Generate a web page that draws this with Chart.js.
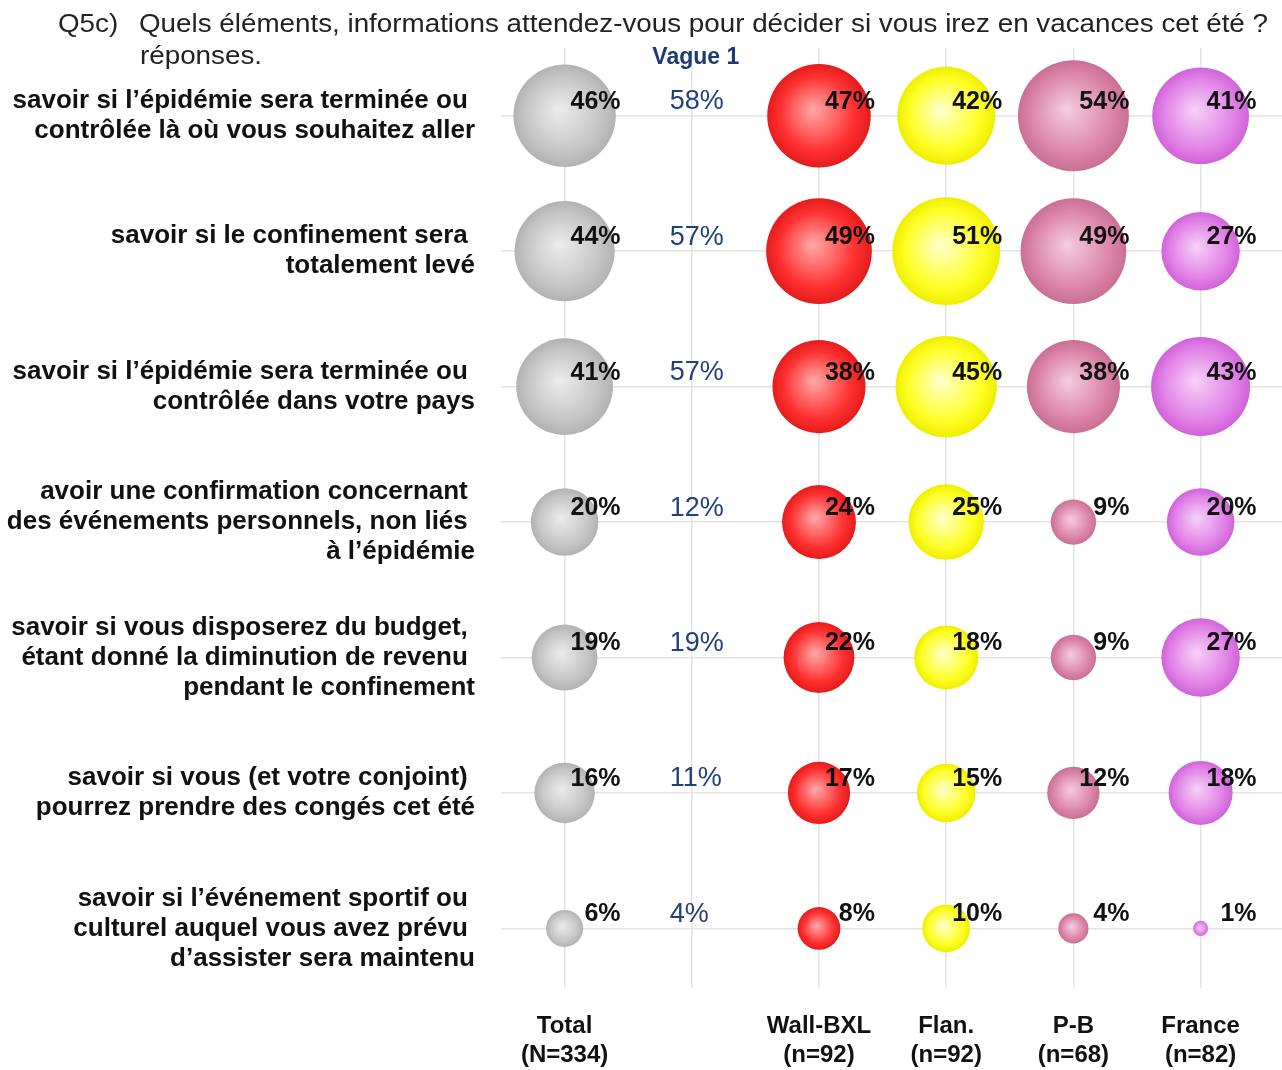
<!DOCTYPE html>
<html><head><meta charset="utf-8">
<script src="https://cdn.jsdelivr.net/npm/chart.js@4.4.1/dist/chart.umd.min.js"></script>
<style>html,body{margin:0;padding:0;background:#fff}#wrap{width:1282px;height:1070px;position:relative}</style>
</head><body><div id="wrap"><canvas id="c"></canvas></div>
<script>
// ---------- data ----------
const titleCode = 'Q5c)';
const titleLine1 = 'Quels éléments, informations attendez-vous pour décider si vous irez en vacances cet été ?';
const titleLine2 = 'réponses.';
const categories = [
  ['savoir si l’épidémie sera terminée ou ', 'contrôlée là où vous souhaitez aller'],
  ['savoir si le confinement sera ', 'totalement levé'],
  ['savoir si l’épidémie sera terminée ou ', 'contrôlée dans votre pays'],
  ['avoir une confirmation concernant ', 'des événements personnels, non liés ', 'à l’épidémie'],
  ['savoir si vous disposerez du budget, ', 'étant donné la diminution de revenu ', 'pendant le confinement'],
  ['savoir si vous (et votre conjoint) ', 'pourrez prendre des congés cet été'],
  ['savoir si l’événement sportif ou ', 'culturel auquel vous avez prévu ', 'd’assister sera maintenu']
];
const columns = ['Total', 'Vague 1', 'Wall-BXL', 'Flan.', 'P-B', 'France'];
const columnN = ['(N=334)', '', '(n=92)', '(n=92)', '(n=68)', '(n=82)'];
const total   = [46, 44, 41, 20, 19, 16, 6];
const vague1  = [58, 57, 57, 12, 19, 11, 4];
const wallBxl = [47, 49, 38, 24, 22, 17, 8];
const flan    = [42, 51, 45, 25, 18, 15, 10];
const pb      = [54, 49, 38, 9, 9, 12, 4];
const france  = [41, 27, 43, 20, 27, 18, 1];

// ---------- config ----------
const FONT = "'Liberation Sans', Arial, sans-serif";
const K = 7.55; // bubble radius = K * sqrt(value) (area proportional)

function bubbleData(values, col) {
  return values.map((v, i) => ({ x: col, y: i, r: K * Math.sqrt(v), v: v }));
}
function grad(light, base, edge) {
  return function (ctx) {
    const chart = ctx.chart;
    if (!chart.chartArea || !ctx.parsed) return base;
    const x = chart.scales.x.getPixelForValue(ctx.parsed.x);
    const y = chart.scales.y.getPixelForValue(ctx.parsed.y);
    const r = ctx.raw.r;
    const g = chart.ctx.createRadialGradient(x - r * 0.12, y - r * 0.12, 0, x, y, r);
    g.addColorStop(0, light);
    g.addColorStop(0.72, base);
    g.addColorStop(1, edge);
    return g;
  };
}
const seriesDefs = [
  { label: columns[0], values: total,   col: 0, c: ['#ececec', '#c6c6c6', '#b2b2b2'] },
  { label: columns[2], values: wallBxl, col: 2, c: ['#ffaaaa', '#ff3030', '#e41c1c'] },
  { label: columns[3], values: flan,    col: 3, c: ['#ffffd0', '#ffff26', '#eeee00'] },
  { label: columns[4], values: pb,      col: 4, c: ['#f4cde0', '#dc86a9', '#c96f95'] },
  { label: columns[5], values: france,  col: 5, c: ['#f6d2f6', '#e283e8', '#d063d8'] }
];
const datasets = seriesDefs.map(s => ({
  type: 'bubble',
  label: s.label,
  data: bubbleData(s.values, s.col),
  backgroundColor: grad(s.c[0], s.c[1], s.c[2]),
  borderWidth: 0,
  clip: false,
  isBubble: true
}));
datasets.push({
  type: 'scatter',
  label: columns[1],
  data: vague1.map((v, i) => ({ x: 1, y: i, v: v })),
  pointRadius: 0,
  isBubble: false
});

const labelsPlugin = {
  id: 'labels',
  afterDatasetsDraw(chart) {
    const ctx = chart.ctx;
    ctx.save();
    chart.data.datasets.forEach((ds, di) => {
      const meta = chart.getDatasetMeta(di);
      meta.data.forEach((el, i) => {
        const v = ds.data[i].v;
        if (ds.isBubble) {
          ctx.font = 'bold 25px ' + FONT;
          ctx.fillStyle = '#111';
          ctx.textAlign = 'right';
          ctx.textBaseline = 'middle';
          ctx.fillText(v + '%', el.x + 56, el.y - 14);
        } else {
          ctx.font = '27px ' + FONT;
          ctx.fillStyle = '#23407a';
          ctx.textAlign = 'left';
          ctx.textBaseline = 'middle';
          ctx.fillText(v + '%', el.x - 22, el.y - 14);
        }
      });
    });
    ctx.restore();
  }
};
const headerPlugin = {
  id: 'header',
  afterDraw(chart) {
    const ctx = chart.ctx;
    ctx.save();
    ctx.fillStyle = '#222';
    ctx.textBaseline = 'alphabetic';
    ctx.textAlign = 'left';
    ctx.font = '26px ' + FONT;
    const w1 = ctx.measureText(titleLine1).width;
    const sx = 1129 / w1;
    ctx.save(); ctx.translate(58, 32); ctx.scale(sx, 1); ctx.fillText(titleCode, 0, 0); ctx.restore();
    ctx.save(); ctx.translate(139, 32); ctx.scale(sx, 1); ctx.fillText(titleLine1, 0, 0); ctx.restore();
    ctx.save(); ctx.translate(140, 64); ctx.scale(sx, 1); ctx.fillText(titleLine2, 0, 0); ctx.restore();
    // column header for Vague 1
    const xv = chart.scales.x.getPixelForValue(1);
    ctx.font = 'bold 23px ' + FONT;
    ctx.fillStyle = '#1f3a73';
    ctx.textAlign = 'center';
    ctx.textBaseline = 'middle';
    ctx.fillText(columns[1], xv + 4, 58);
    ctx.restore();
  }
};
function noPad(s) { s.paddingTop = 0; s.paddingBottom = 0; s.paddingLeft = 0; s.paddingRight = 0; }

new Chart(document.getElementById('c'), {
  data: { datasets: datasets },
  options: {
    responsive: true,
    maintainAspectRatio: false,
    animation: false,
    events: [],
    layout: { autoPadding: false, padding: { top: 48, left: 0, right: 0, bottom: 0 } },
    plugins: { legend: { display: false }, tooltip: { enabled: false }, title: { display: false } },
    scales: {
      x: {
        type: 'linear', position: 'bottom', min: -0.5, max: 5.64,
        afterBuildTicks: s => { s.ticks = columns.map((c, i) => ({ value: i })); },
        afterFit: s => { s.height = 82; noPad(s); },
        grid: { color: '#e4e4e4', lineWidth: 1.5, drawTicks: false },
        border: { display: false },
        ticks: {
          autoSkip: false, maxRotation: 0, padding: 24,
          color: '#111',
          font: { family: FONT, size: 24, weight: 'bold', lineHeight: 1.21 },
          callback: v => (columnN[v] ? [columns[v], columnN[v]] : '')
        }
      },
      y: {
        type: 'linear', reverse: true, min: -0.5, max: 6.44,
        afterBuildTicks: s => { s.ticks = categories.map((c, i) => ({ value: i })); },
        afterFit: s => { s.width = 501; noPad(s); },
        grid: { color: '#e4e4e4', lineWidth: 1.5, drawTicks: false },
        border: { display: false },
        ticks: {
          autoSkip: false, padding: 26,
          color: '#111',
          font: { family: FONT, size: 26, weight: 'bold', lineHeight: 1.154 },
          callback: v => categories[v]
        }
      }
    }
  },
  plugins: [labelsPlugin, headerPlugin]
});
</script>
</body></html>
